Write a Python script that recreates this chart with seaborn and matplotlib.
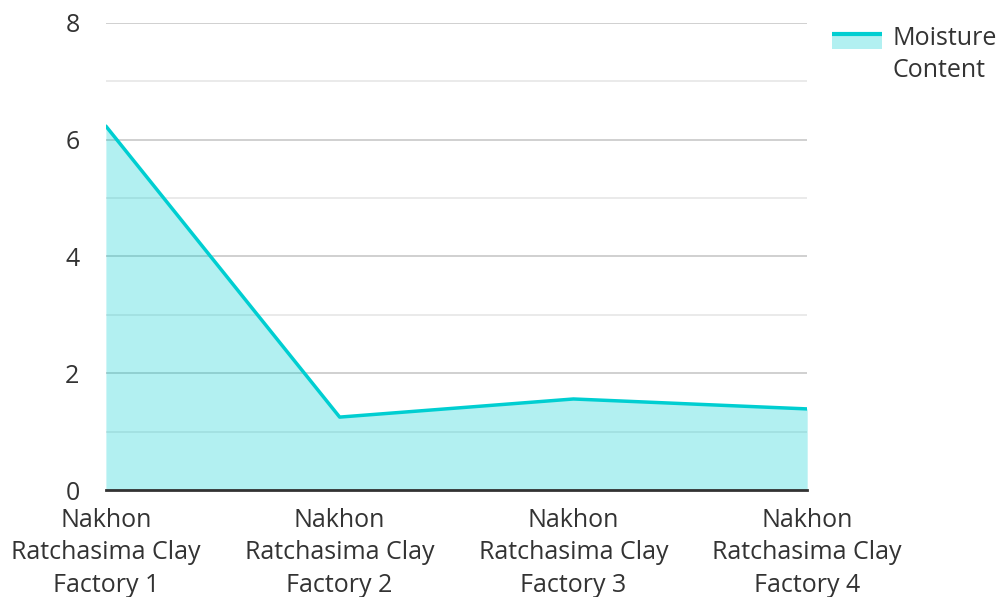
import matplotlib
matplotlib.use("Agg")
import matplotlib.pyplot as plt
from matplotlib.legend_handler import HandlerBase
from matplotlib.patches import Rectangle
from matplotlib.lines import Line2D
import seaborn as sns
import pandas as pd

factories = [
    "Nakhon\nRatchasima Clay\nFactory 1",
    "Nakhon\nRatchasima Clay\nFactory 2",
    "Nakhon\nRatchasima Clay\nFactory 3",
    "Nakhon\nRatchasima Clay\nFactory 4",
]
moisture = [6.23, 1.25, 1.56, 1.39]
series_name = "Moisture\nContent"

LINE = "#00CED1"
FILL = "#B2F0F1"
TEXT = "#333333"
FS = 18

sns.set_theme(style="white")
plt.rcParams["font.family"] = ["Open Sans", "DejaVu Sans"]

df = pd.DataFrame({"x": range(len(factories)), "y": moisture})

fig = plt.figure(figsize=(9.99, 5.97), dpi=100)
ax = fig.add_axes([0.106, 0.179, 0.702, 0.783])

ax.fill_between(df["x"], 0, df["y"], color=LINE, alpha=0.3, linewidth=0, zorder=3)
sns.lineplot(data=df, x="x", y="y", ax=ax, color=LINE, linewidth=2.5, zorder=4)

ax.set_xlim(0, len(factories) - 1)
ax.set_ylim(0, 8)
ax.set_yticks([0, 2, 4, 6, 8])
ax.set_yticks([1, 3, 5, 7], minor=True)
ax.set_xticks(range(len(factories)))
ax.set_xticklabels(factories, fontsize=FS, color=TEXT, linespacing=1.38)
ax.tick_params(axis="y", labelsize=FS, labelcolor=TEXT, length=0, pad=19, which="both")
ax.tick_params(axis="x", length=0, pad=13)
ax.grid(axis="y", which="major", color="#C8C8C8", linewidth=1.2, zorder=1)
ax.grid(axis="y", which="minor", color="#E6E6E6", linewidth=1.2, zorder=1)
ax.set_axisbelow(True)
for s in ["top", "right", "left"]:
    ax.spines[s].set_visible(False)
ax.spines["bottom"].set_color(TEXT)
ax.spines["bottom"].set_linewidth(2)
ax.spines["bottom"].set_zorder(5)
ax.set_xlabel("")
ax.set_ylabel("")


class AreaHandler(HandlerBase):
    def create_artists(self, legend, orig_handle, xdescent, ydescent,
                       width, height, fontsize, trans):
        top = height * 1.75
        bot = height * 0.85
        rect = Rectangle((-xdescent, -ydescent + bot), width, top - bot,
                         facecolor=FILL, edgecolor="none", transform=trans)
        line = Line2D([-xdescent, -xdescent + width], [-ydescent + top] * 2,
                      color=LINE, linewidth=3, solid_capstyle="butt", transform=trans)
        return [rect, line]


handle = Rectangle((0, 0), 1, 1)
leg = fig.legend([handle], [series_name], handler_map={Rectangle: AreaHandler()},
                 loc="upper left", bbox_to_anchor=(0.815, 0.985), frameon=False,
                 fontsize=FS, handlelength=2.0, handleheight=0.7, handletextpad=0.45,
                 labelcolor=TEXT, borderpad=0.2)
for t in leg.get_texts():
    t.set_linespacing(1.35)

fig.savefig("out.png", dpi=100)
